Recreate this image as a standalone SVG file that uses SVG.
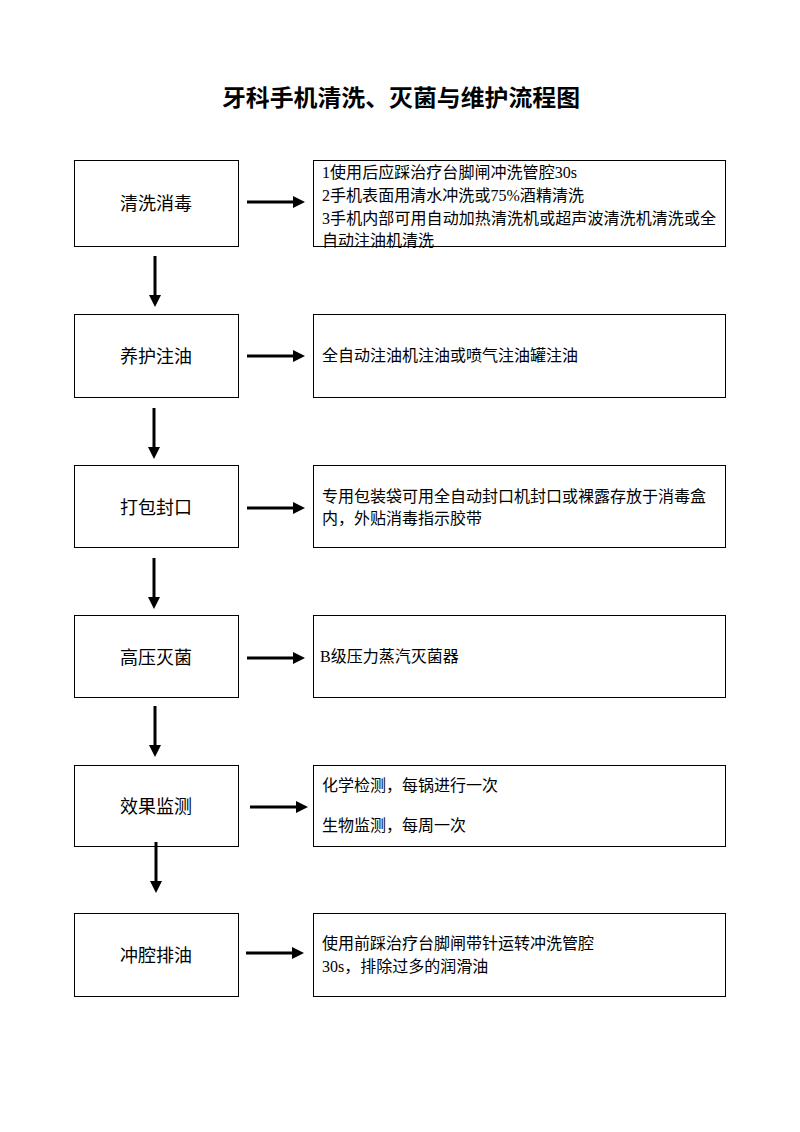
<svg xmlns="http://www.w3.org/2000/svg" width="800" height="1132" viewBox="0 0 800 1132">
<style>
.box{fill:#fff;stroke:#000;stroke-width:1}
.lbl{font-family:"Liberation Serif","Noto Sans CJK SC",serif;font-size:18px;fill:#000;text-anchor:middle}
.txt{font-family:"Liberation Serif","Noto Sans CJK SC",serif;font-size:16px;fill:#000}
.title{font-family:"Liberation Sans","Noto Sans CJK SC",sans-serif;font-size:23px;font-weight:bold;fill:#000;text-anchor:middle}
.arr{stroke:#000;stroke-width:3;fill:none;marker-end:url(#ah)}
</style>
<defs>
<marker id="ah" markerWidth="4" markerHeight="4" refX="0" refY="2" orient="auto" markerUnits="strokeWidth">
<path d="M0,0 L4,2 L0,4 Z" fill="#000"/>
</marker>
</defs>
<rect width="800" height="1132" fill="#fff"/>
<text class="title" x="401" y="106" textLength="358" lengthAdjust="spacingAndGlyphs">牙科手机清洗、灭菌与维护流程图</text>

<g id="n1"><rect class="box" x="74.5" y="160.5" width="164" height="86"/><text class="lbl" x="156" y="210">清洗消毒</text></g>
<g id="d1"><rect class="box" x="313.5" y="160.5" width="412" height="86"/>
<text class="txt" x="322" y="178" textLength="255">1使用后应踩治疗台脚闸冲洗管腔30s</text>
<text class="txt" x="322" y="201" textLength="262">2手机表面用清水冲洗或75%酒精清洗</text>
<text class="txt" x="322" y="224" textLength="394">3手机内部可用自动加热清洗机或超声波清洗机清洗或全</text>
<text class="txt" x="322" y="246">自动注油机清洗</text></g>

<g id="n2"><rect class="box" x="74.5" y="314.5" width="164" height="83"/><text class="lbl" x="156" y="363">养护注油</text></g>
<g id="d2"><rect class="box" x="313.5" y="314.5" width="412" height="83"/>
<text class="txt" x="322" y="361">全自动注油机注油或喷气注油罐注油</text></g>

<g id="n3"><rect class="box" x="74.5" y="465.5" width="164" height="82"/><text class="lbl" x="156" y="514">打包封口</text></g>
<g id="d3"><rect class="box" x="313.5" y="465.5" width="412" height="82"/>
<text class="txt" x="322" y="502">专用包装袋可用全自动封口机封口或裸露存放于消毒盒</text>
<text class="txt" x="322" y="524">内，外贴消毒指示胶带</text></g>

<g id="n4"><rect class="box" x="74.5" y="615.5" width="164" height="82"/><text class="lbl" x="156" y="664">高压灭菌</text></g>
<g id="d4"><rect class="box" x="313.5" y="615.5" width="412" height="82"/>
<text class="txt" x="320" y="662">B级压力蒸汽灭菌器</text></g>

<g id="n5"><rect class="box" x="74.5" y="765.5" width="164" height="81"/><text class="lbl" x="156" y="813">效果监测</text></g>
<g id="d5"><rect class="box" x="313.5" y="765.5" width="412" height="81"/>
<text class="txt" x="322" y="791">化学检测，每锅进行一次</text>
<text class="txt" x="322" y="831">生物监测，每周一次</text></g>

<g id="n6"><rect class="box" x="74.5" y="913.5" width="164" height="83"/><text class="lbl" x="156" y="962">冲腔排油</text></g>
<g id="d6"><rect class="box" x="313.5" y="913.5" width="412" height="83"/>
<text class="txt" x="322" y="949">使用前踩治疗台脚闸带针运转冲洗管腔</text>
<text class="txt" x="322" y="972">30s，排除过多的润滑油</text></g>

<g id="connectors">
<line class="arr" x1="247" y1="202" x2="293" y2="202"/>
<line class="arr" x1="247" y1="356" x2="293" y2="356"/>
<line class="arr" x1="247" y1="508" x2="293" y2="508"/>
<line class="arr" x1="247" y1="658" x2="293" y2="658"/>
<line class="arr" x1="250" y1="807" x2="296" y2="807"/>
<line class="arr" x1="246" y1="953" x2="292" y2="953"/>
<line class="arr" x1="155" y1="256" x2="155" y2="295"/>
<line class="arr" x1="154" y1="408" x2="154" y2="447"/>
<line class="arr" x1="154" y1="558" x2="154" y2="597"/>
<line class="arr" x1="155" y1="706" x2="155" y2="745"/>
<line class="arr" x1="156" y1="842" x2="156" y2="881"/>
</g>
</svg>
